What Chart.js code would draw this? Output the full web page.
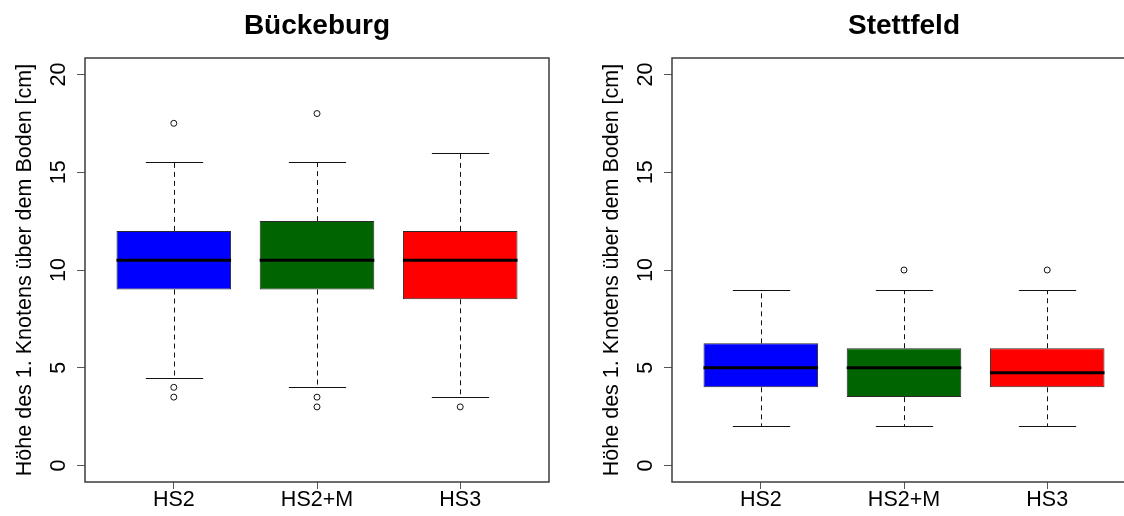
<!DOCTYPE html>
<html>
<head>
<meta charset="utf-8">
<script src="https://cdn.jsdelivr.net/npm/chart.js@4.4.1/dist/chart.umd.min.js"></script>
<style>
  html, body { margin: 0; padding: 0; background: #fff; overflow: hidden; }
  #wrap { position: relative; width: 1124px; height: 516px; overflow: hidden; }
  .panel { position: absolute; top: 0; width: 587px; height: 516px; }
</style>
</head>
<body>
<div id="wrap">
  <div class="panel" style="left:0"><canvas id="c1" width="587" height="516"></canvas></div>
  <div class="panel" style="left:587px"><canvas id="c2" width="587" height="516"></canvas></div>
</div>
<script>
const categories = ['HS2', 'HS2+M', 'HS3'];
const yTicks = [0, 5, 10, 15, 20];
const yLabel = 'Höhe des 1. Knotens über dem Boden [cm]';
const boxColors = ['#0000ff', '#006400', '#ff0000'];

// Bückeburg
const bueTitle = 'Bückeburg';
const bueLower = [4.5, 4, 3.5];
const bueQ1 = [9, 9, 8.5];
const bueMedian = [10.5, 10.5, 10.5];
const bueQ3 = [12, 12.5, 12];
const bueUpper = [15.5, 15.5, 16];
const bueOutliers = [[17.5, 4, 3.5], [18, 3.5, 3], [3]];

// Stettfeld
const stfTitle = 'Stettfeld';
const stfLower = [2, 2, 2];
const stfQ1 = [4, 3.5, 4];
const stfMedian = [5, 5, 4.75];
const stfQ3 = [6.25, 6, 6];
const stfUpper = [9, 9, 9];
const stfOutliers = [[], [10], [10]];

const FONT = '"Liberation Sans", Arial, sans-serif';

function seg(ctx, x1, y1, x2, y2) {
  ctx.beginPath();
  ctx.moveTo(x1, y1);
  ctx.lineTo(x2, y2);
  ctx.stroke();
}

// whiskers, medians, frame and all the text (R style)
const boxExtras = {
  id: 'boxExtras',
  beforeDatasetsDraw(chart, args, o) {
    const ctx = chart.ctx, y = chart.scales.y;
    const meta = chart.getDatasetMeta(0);
    ctx.save();
    ctx.strokeStyle = '#111';
    ctx.lineWidth = 1;
    meta.data.forEach((bar, i) => {
      const x = Math.round(bar.x) + 0.5;
      const half = bar.width / 4;
      const yHi = Math.round(y.getPixelForValue(o.upper[i])) + 0.5;
      const yLo = Math.round(y.getPixelForValue(o.lower[i])) + 0.5;
      ctx.setLineDash([5, 4]);
      seg(ctx, x, y.getPixelForValue(o.q3[i]), x, yHi);
      seg(ctx, x, y.getPixelForValue(o.q1[i]), x, yLo);
      ctx.setLineDash([]);
      seg(ctx, x - half, yHi, x + half, yHi);
      seg(ctx, x - half, yLo, x + half, yLo);
    });
    ctx.restore();
  },
  afterDatasetsDraw(chart, args, o) {
    const ctx = chart.ctx, y = chart.scales.y, a = chart.chartArea;
    const meta = chart.getDatasetMeta(0);
    ctx.save();
    ctx.strokeStyle = '#000';
    ctx.lineWidth = 3;
    meta.data.forEach((bar, i) => {
      const py = y.getPixelForValue(o.median[i]);
      seg(ctx, bar.x - bar.width / 2, py, bar.x + bar.width / 2, py);
    });
    ctx.strokeStyle = '#3c3c3c';
    ctx.lineWidth = 1.5;
    ctx.strokeRect(a.left, a.top, a.right - a.left, a.bottom - a.top);
    ctx.restore();
  },
  afterDraw(chart, args, o) {
    const ctx = chart.ctx, a = chart.chartArea;
    const xs = chart.scales.x, ys = chart.scales.y;
    ctx.save();
    ctx.fillStyle = '#000';
    ctx.textAlign = 'center';
    ctx.textBaseline = 'alphabetic';

    ctx.font = 'bold 28px ' + FONT;
    ctx.fillText(o.title, (a.left + a.right) / 2, 34);

    ctx.font = '21.5px ' + FONT;
    xs.ticks.forEach(t => {
      ctx.fillText(categories[t.value - 1], xs.getPixelForValue(t.value), 506);
    });
    ys.ticks.forEach(t => {
      ctx.save();
      ctx.translate(65, ys.getPixelForValue(t.value));
      ctx.rotate(-Math.PI / 2);
      ctx.fillText(String(t.value), 0, 0);
      ctx.restore();
    });
    ctx.translate(31, (a.top + a.bottom) / 2);
    ctx.rotate(-Math.PI / 2);
    ctx.fillText(yLabel, 0, 0);
    ctx.restore();
  }
};

function makeChart(id, title, lower, q1, median, q3, upper, outliers) {
  const boxes = categories.map((c, i) => ({ x: i + 1, y: [q1[i], q3[i]] }));
  const points = [];
  outliers.forEach((list, i) => list.forEach(v => points.push({ x: i + 1, y: v })));

  return new Chart(document.getElementById(id), {
    type: 'bar',
    data: {
      datasets: [
        {
          data: boxes,
          backgroundColor: boxColors,
          borderColor: '#2a2a2a',
          borderWidth: 1,
          borderSkipped: false,
          barPercentage: 0.8,
          categoryPercentage: 1
        },
        {
          type: 'scatter',
          data: points,
          pointRadius: 3,
          pointBorderWidth: 1,
          pointBorderColor: '#111',
          pointBackgroundColor: 'rgba(255,255,255,0)'
        }
      ]
    },
    options: {
      responsive: false,
      animation: false,
      events: [],
      layout: { padding: { top: 58, right: 38, left: 0, bottom: 0 } },
      plugins: {
        legend: { display: false },
        tooltip: { enabled: false },
        boxExtras: { title, lower, q1, median, q3, upper }
      },
      scales: {
        x: {
          type: 'linear',
          min: 0.38,
          max: 3.62,
          offset: false,
          afterBuildTicks: s => { s.ticks = categories.map((c, i) => ({ value: i + 1 })); },
          afterFit: s => { s.height = 34; },
          ticks: { display: false },
          border: { display: false },
          grid: { offset: false, drawOnChartArea: false, drawTicks: true, tickLength: 7, color: '#555', lineWidth: 1 }
        },
        y: {
          min: -0.84,
          max: 20.84,
          afterBuildTicks: s => { s.ticks = yTicks.map(v => ({ value: v })); },
          afterFit: s => { s.width = 85; },
          ticks: { display: false },
          border: { display: false },
          grid: { drawOnChartArea: false, drawTicks: true, tickLength: 8, color: '#555', lineWidth: 1 }
        }
      }
    },
    plugins: [boxExtras]
  });
}

makeChart('c1', bueTitle, bueLower, bueQ1, bueMedian, bueQ3, bueUpper, bueOutliers);
makeChart('c2', stfTitle, stfLower, stfQ1, stfMedian, stfQ3, stfUpper, stfOutliers);
</script>
</body>
</html>
